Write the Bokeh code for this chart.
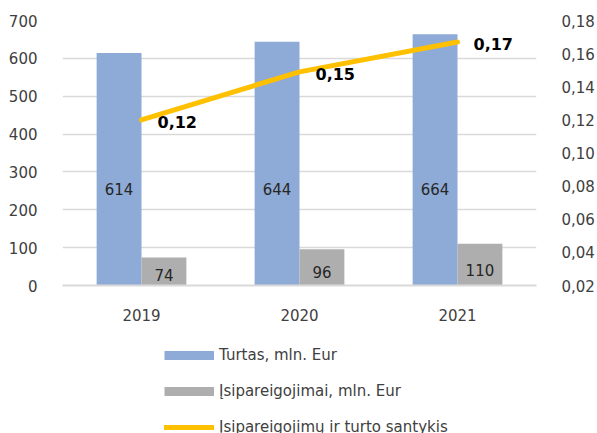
from bokeh.plotting import figure
from bokeh.layouts import column
from bokeh.models import (ColumnDataSource, FactorRange, Range1d, LinearAxis, FixedTicker,
                          CustomJSTickFormatter, Legend, LegendItem)
from bokeh.transform import dodge
from bokeh.core.properties import value
from bokeh.embed import file_html
from bokeh.resources import INLINE

years = ["2019", "2020", "2021"]
assets = [614, 644, 664]
liabilities = [74, 96, 110]
ratio = [0.12, 0.149, 0.167]
ratio_labels = ["0,12", "0,15", "0,17"]
left_ticks = [0, 100, 200, 300, 400, 500, 600, 700]
right_ticks = [0.02, 0.04, 0.06, 0.08, 0.10, 0.12, 0.14, 0.16, 0.18]
legend_labels = ["Turtas, mln. Eur", "Įsipareigojimai, mln. Eur", "Įsipareigojimų ir turto santykis"]

FONT = "DejaVu Sans"
TXT = "#404040"
BLUE = "#8EAAD6"
GREY = "#AEAEAE"
YELLOW = "#FFC000"
GRID = "#D9D9D9"

src = ColumnDataSource(dict(
    year=years,
    assets=assets,
    liab=liabilities,
    ratio=ratio,
    rlab=ratio_labels,
    alab=[str(v) for v in assets],
    llab=[str(v) for v in liabilities],
    alab_y=[255 for _ in assets],
    llab_y=[v * 0.37 for v in liabilities],
))

p = figure(width=597, height=330, x_range=FactorRange(*years), y_range=Range1d(0, 700),
           output_backend="svg", toolbar_location=None,
           min_border_left=62, min_border_right=59, min_border_top=20, min_border_bottom=45)
p.outline_line_color = None
p.background_fill_color = "white"
p.border_fill_color = "white"

p.xgrid.grid_line_color = None
p.ygrid.grid_line_color = GRID
p.ygrid.grid_line_width = 1.5

p.yaxis.ticker = FixedTicker(ticks=left_ticks)
p.yaxis.axis_line_color = None
p.yaxis.major_tick_line_color = None
p.yaxis.minor_tick_line_color = None
p.yaxis.major_label_standoff = 19
p.yaxis.major_label_text_font = FONT
p.yaxis.major_label_text_font_size = "15px"
p.yaxis.major_label_text_color = TXT

p.xaxis.axis_line_color = GRID
p.xaxis.axis_line_width = 2
p.xaxis.major_tick_line_color = None
p.xaxis.minor_tick_line_color = None
p.xaxis.major_label_standoff = 17
p.xaxis.major_label_text_font = FONT
p.xaxis.major_label_text_font_size = "15px"
p.xaxis.major_label_text_color = TXT

p.extra_y_ranges = {"r": Range1d(0.02, 0.18)}
rax = LinearAxis(y_range_name="r", ticker=FixedTicker(ticks=right_ticks),
                 formatter=CustomJSTickFormatter(code="return tick.toFixed(2).replace('.', ',');"))
rax.axis_line_color = None
rax.major_tick_line_color = None
rax.minor_tick_line_color = None
rax.major_label_standoff = 19
rax.major_label_text_font = FONT
rax.major_label_text_font_size = "15px"
rax.major_label_text_color = TXT
p.add_layout(rax, "right")

p.vbar(x=dodge("year", -0.142, range=p.x_range), top="assets", width=0.284, source=src,
       fill_color=BLUE, line_color=None)
p.vbar(x=dodge("year", 0.142, range=p.x_range), top="liab", width=0.284, source=src,
       fill_color=GREY, line_color=None)

p.text(x=dodge("year", -0.142, range=p.x_range), y="alab_y", text="alab", source=src,
       text_align="center", text_baseline="middle", text_font=value(FONT),
       text_font_size="15px", text_color="#262626")
p.text(x=dodge("year", 0.142, range=p.x_range), y="llab_y", text="llab", source=src,
       text_align="center", text_baseline="middle", text_font=value(FONT),
       text_font_size="15px", text_color="#262626")

p.line(x="year", y="ratio", source=src, y_range_name="r", line_color=YELLOW,
       line_width=5, line_cap="round")
p.text(x="year", y="ratio", text="rlab", source=src, y_range_name="r",
       x_offset=16, y_offset=2, text_align="left", text_baseline="middle",
       text_font=value(FONT), text_font_style="bold", text_font_size="16px",
       text_color="black")

# legend figure below the chart (its frame is aligned with the chart's frame)
lg = figure(width=597, height=103, x_range=Range1d(0, 1), y_range=Range1d(0, 1),
            output_backend="svg", toolbar_location=None,
            x_axis_location=None, y_axis_location=None,
            min_border_left=0, min_border_right=0, min_border_top=0, min_border_bottom=0)
lg.outline_line_color = None
lg.grid.visible = False

nan = float("nan")
proxy = ColumnDataSource(dict(x=[nan], y=[nan]))
g1 = lg.line(x="x", y="y", source=proxy, line_color=BLUE, line_width=9, line_cap="butt")
g2 = lg.line(x="x", y="y", source=proxy, line_color=GREY, line_width=9, line_cap="butt")
g3 = lg.line(x="x", y="y", source=proxy, line_color=YELLOW, line_width=5, line_cap="round")

legend = Legend(items=[LegendItem(label=legend_labels[0], renderers=[g1]),
                       LegendItem(label=legend_labels[1], renderers=[g2]),
                       LegendItem(label=legend_labels[2], renderers=[g3])],
                location=(102, -4), orientation="vertical",
                glyph_width=50, glyph_height=20, label_height=20, spacing=16,
                padding=0, margin=0, border_line_color=None, background_fill_alpha=0,
                label_text_font=FONT, label_text_font_size="15px", label_standoff=5,
                label_text_color=TXT)
lg.add_layout(legend, "center")

open("out.html", "w").write(file_html(column(p, lg), INLINE))
